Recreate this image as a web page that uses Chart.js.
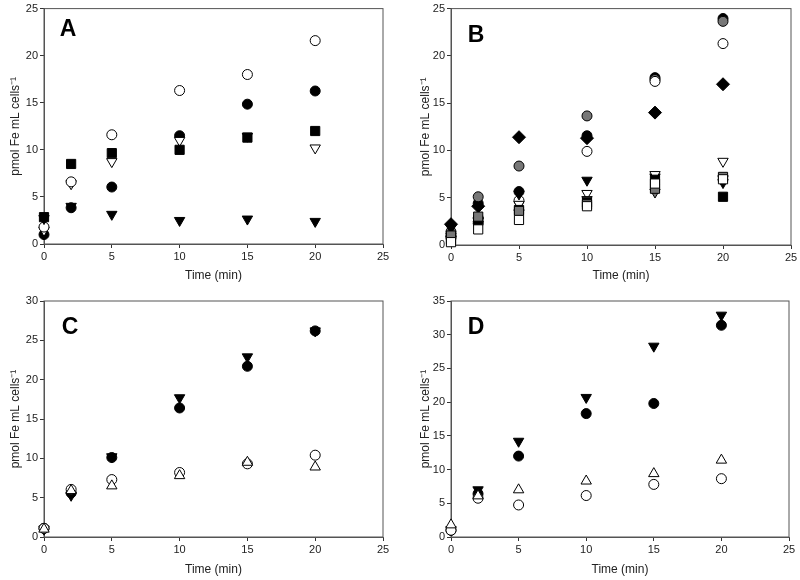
<!DOCTYPE html>
<html>
<head>
<meta charset="utf-8">
<script src="https://cdn.jsdelivr.net/npm/chart.js@4.4.1/dist/chart.umd.min.js"></script>
<style>
  body { margin: 0; background: #fff; }
  #wrap { position: relative; width: 800px; height: 580px; }
  canvas { position: absolute; }
</style>
</head>
<body>
<div id="wrap">
  <canvas id="chartA" width="400" height="290" style="left:0;top:0"></canvas>
  <canvas id="chartB" width="400" height="290" style="left:400px;top:0"></canvas>
  <canvas id="chartC" width="400" height="290" style="left:0;top:290px"></canvas>
  <canvas id="chartD" width="400" height="290" style="left:400px;top:290px"></canvas>
</div>
<script>
// sampling times (min)
const times = [0, 2, 5, 10, 15, 20];
const xTicks = [0, 5, 10, 15, 20, 25];
const yTicksAB = [0, 5, 10, 15, 20, 25];
const yTicksC = [0, 5, 10, 15, 20, 25, 30];
const yTicksD = [0, 5, 10, 15, 20, 25, 30, 35];

// panel A
const aOpenCircle = [1.8, 6.6, 11.6, 16.3, 18.0, 21.6];
const aFilledCircle = [1.0, 3.85, 6.05, 11.5, 14.85, 16.25];
const aFilledSquare = [2.85, 8.5, 9.65, 10.0, 11.3, 12.0];
const aOpenTriDown = [1.45, 6.4, 8.75, 11.0, 11.45, 10.2];
const aFilledTriDown = [2.7, 4.0, 3.15, 2.5, 2.65, 2.4];

// panel B
const bGrayCircle = [1.4, 5.1, 8.35, 13.65, 17.5, 23.65];
const bFilledCircle = [1.0, 4.4, 5.65, 11.55, 17.7, 23.95];
const bOpenCircle = [0.8, 2.3, 4.7, 9.9, 17.3, 21.3];
const bFilledDiamond = [2.2, 4.1, 11.4, 11.3, 14.0, 17.0];
const bFilledTriDown = [1.8, 2.6, 5.4, 6.85, 7.2, 6.6];
const bOpenTriDown = [0.9, 2.2, 4.3, 5.45, 7.45, 8.85];
const bGrayTriDown = [0.6, 2.5, 3.4, 4.8, 5.6, 7.0];
const bOpenSquare = [0.3, 1.65, 2.65, 4.1, 6.5, 6.95];
const bGraySquare = [1.0, 3.0, 3.6, 4.3, 5.95, 7.2];
const bFilledSquare = [0.6, 2.6, 3.7, 4.5, 6.9, 5.1];

// panel C
const cOpenTriUp = [1.0, 5.9, 6.5, 7.8, 9.5, 8.9];
const cOpenCircle = [1.1, 6.05, 7.3, 8.2, 9.3, 10.4];
const cFilledTriDown = [1.0, 5.3, 10.2, 17.7, 22.9, 26.2];
const cFilledCircle = [1.1, 5.6, 10.1, 16.4, 21.7, 26.2];

// panel D
const dOpenTriUp = [1.8, 6.1, 7.0, 8.3, 9.4, 11.4];
const dOpenCircle = [1.0, 5.75, 4.75, 6.15, 7.8, 8.65];
const dFilledTriDown = [1.1, 7.0, 14.2, 20.7, 28.3, 32.9];
const dFilledCircle = [1.0, 6.4, 12.0, 18.3, 19.8, 31.4];

const FONT = "'Liberation Sans', Arial, sans-serif";

const markers = {
  openCircle: { pointStyle: 'circle', pointRadius: 5, pointBackgroundColor: '#fff', pointRotation: 0 },
  filledCircle: { pointStyle: 'circle', pointRadius: 5, pointBackgroundColor: '#000', pointRotation: 0 },
  grayCircle: { pointStyle: 'circle', pointRadius: 5, pointBackgroundColor: '#777', pointRotation: 0 },
  openTriDown: { pointStyle: 'triangle', pointRadius: 6, pointBackgroundColor: '#fff', pointRotation: 180 },
  filledTriDown: { pointStyle: 'triangle', pointRadius: 6, pointBackgroundColor: '#000', pointRotation: 180 },
  grayTriDown: { pointStyle: 'triangle', pointRadius: 6, pointBackgroundColor: '#777', pointRotation: 180 },
  openTriUp: { pointStyle: 'triangle', pointRadius: 6, pointBackgroundColor: '#fff', pointRotation: 0 },
  openSquare: { pointStyle: 'rect', pointRadius: 6.5, pointBackgroundColor: '#fff', pointRotation: 0 },
  filledSquare: { pointStyle: 'rect', pointRadius: 6.5, pointBackgroundColor: '#000', pointRotation: 0 },
  graySquare: { pointStyle: 'rect', pointRadius: 6.5, pointBackgroundColor: '#777', pointRotation: 0 },
  filledDiamond: { pointStyle: 'rectRot', pointRadius: 6.5, pointBackgroundColor: '#000', pointRotation: 0 }
};

function series(values, marker) {
  return Object.assign({
    data: values.map((v, i) => ({ x: times[i], y: v })),
    showLine: false,
    clip: false,
    pointBorderColor: '#000',
    pointBorderWidth: 1
  }, markers[marker]);
}

// frame + panel letter
const framePlugin = {
  id: 'frame',
  beforeDatasetsDraw(chart, args, opts) {
    const { ctx, chartArea } = chart;
    ctx.save();
    ctx.strokeStyle = '#555';
    ctx.lineWidth = 1;
    ctx.strokeRect(chartArea.left, chartArea.top, chartArea.right - chartArea.left, chartArea.bottom - chartArea.top);
    ctx.fillStyle = '#000';
    ctx.font = 'bold 23px ' + FONT;
    ctx.textAlign = 'center';
    ctx.textBaseline = 'middle';
    ctx.fillText(opts.letter, chartArea.left + opts.dx, chartArea.top + opts.dy);
    ctx.restore();
  }
};

function makeChart(id, datasets, cfg) {
  new Chart(document.getElementById(id), {
    type: 'scatter',
    data: { datasets },
    options: {
      responsive: false,
      animation: false,
      devicePixelRatio: 1,
      layout: { padding: { top: cfg.top, right: cfg.right, left: 0, bottom: 0 } },
      plugins: {
        legend: { display: false },
        tooltip: { enabled: false },
        frame: { letter: cfg.letter, dx: cfg.dx, dy: cfg.dy }
      },
      scales: {
        x: {
          type: 'linear',
          min: 0,
          max: 25,
          afterBuildTicks: axis => { axis.ticks = xTicks.map(v => ({ value: v })); },
          afterFit: s => { s.height = cfg.xHeight; },
          grid: { display: true, drawOnChartArea: false, tickLength: 4, color: '#333' },
          border: { display: true, color: '#555' },
          ticks: { color: '#222', font: { family: FONT, size: 11 }, padding: 2, maxRotation: 0 },
          title: { display: true, text: 'Time (min)', color: '#222', font: { family: FONT, size: 12 }, padding: { top: 0, bottom: cfg.xTitlePad } }
        },
        y: {
          type: 'linear',
          min: 0,
          max: cfg.yTicks[cfg.yTicks.length - 1],
          afterBuildTicks: axis => { axis.ticks = cfg.yTicks.map(v => ({ value: v })); },
          afterFit: s => { s.width = cfg.yWidth; },
          grid: { display: true, drawOnChartArea: false, tickLength: 4, color: '#333' },
          border: { display: true, color: '#555' },
          ticks: { color: '#222', font: { family: FONT, size: 11 }, padding: 2 },
          title: { display: true, text: 'pmol Fe mL cells\u207B\u00B9', color: '#222', font: { family: FONT, size: 12 }, padding: { top: cfg.yTitlePad, bottom: 0 } }
        }
      }
    },
    plugins: [framePlugin]
  });
}

makeChart('chartA', [
  series(aFilledTriDown, 'filledTriDown'),
  series(aFilledSquare, 'filledSquare'),
  series(aOpenCircle, 'openCircle'),
  series(aOpenTriDown, 'openTriDown'),
  series(aFilledCircle, 'filledCircle')
], { top: 7, right: 17, xHeight: 46, yWidth: 44, yTicks: yTicksAB, xTitlePad: 7, yTitlePad: 8, letter: 'A', dx: 24, dy: 21 });

makeChart('chartB', [
  series(bOpenSquare, 'openSquare'),
  series(bGraySquare, 'graySquare'),
  series(bFilledSquare, 'filledSquare'),
  series(bGrayTriDown, 'grayTriDown'),
  series(bOpenTriDown, 'openTriDown'),
  series(bFilledTriDown, 'filledTriDown'),
  series(bOpenCircle, 'openCircle'),
  series(bGrayCircle, 'grayCircle'),
  series(bFilledCircle, 'filledCircle'),
  series(bFilledDiamond, 'filledDiamond')
], { top: 7, right: 9, xHeight: 45, yWidth: 51, yTicks: yTicksAB, xTitlePad: 7, yTitlePad: 18, letter: 'B', dx: 25, dy: 27 });

makeChart('chartC', [
  series(cOpenTriUp, 'openTriUp'),
  series(cOpenCircle, 'openCircle'),
  series(cFilledCircle, 'filledCircle'),
  series(cFilledTriDown, 'filledTriDown')
], { top: 11, right: 17, xHeight: 43, yWidth: 44, yTicks: yTicksC, xTitlePad: 3, yTitlePad: 8, letter: 'C', dx: 26, dy: 27 });

makeChart('chartD', [
  series(dOpenTriUp, 'openTriUp'),
  series(dOpenCircle, 'openCircle'),
  series(dFilledCircle, 'filledCircle'),
  series(dFilledTriDown, 'filledTriDown')
], { top: 11, right: 11, xHeight: 43, yWidth: 51, yTicks: yTicksD, xTitlePad: 3, yTitlePad: 18, letter: 'D', dx: 25, dy: 27 });
</script>
</body>
</html>
